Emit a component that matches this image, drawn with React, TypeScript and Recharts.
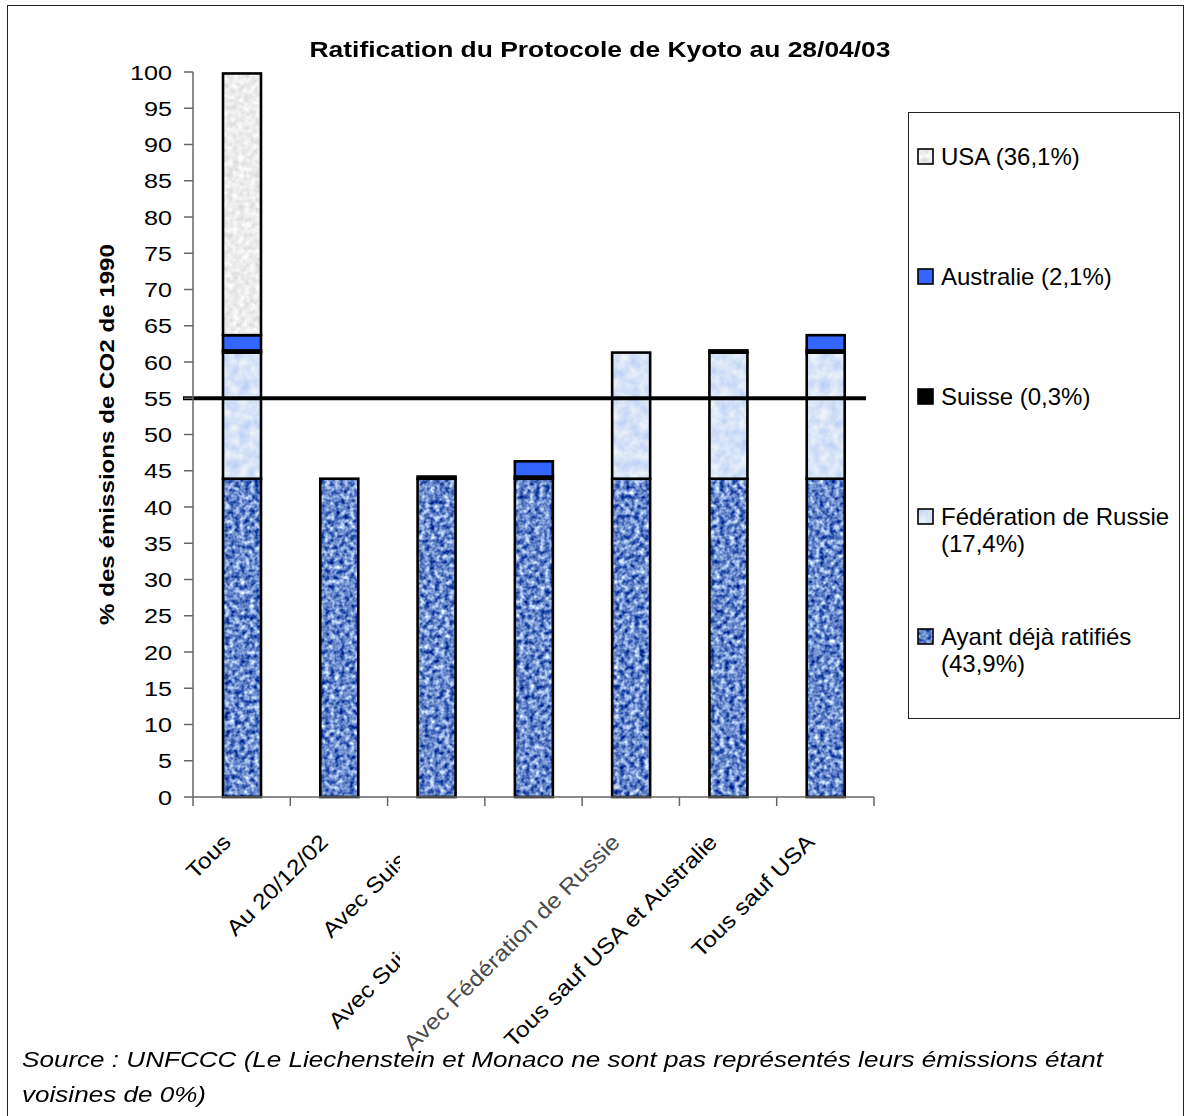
import React from 'react';
import { BarChart, Bar, XAxis, YAxis, ReferenceLine, Legend } from 'recharts';

// Categories (scenarios) and the share of 1990 CO2 emissions for each group
const categories = [
  'Tous',
  'Au 20/12/02',
  'Avec Suisse',
  'Avec Suisse et Australie',
  'Avec Fédération de Russie',
  'Tous sauf USA et Australie',
  'Tous sauf USA',
];
const ayant = [43.9, 43.9, 43.9, 43.9, 43.9, 43.9, 43.9];
const russie = [17.4, 0, 0, 0, 17.4, 17.4, 17.4];
const suisse = [0.3, 0, 0.3, 0.3, 0, 0.3, 0.3];
const australie = [2.1, 0, 0, 2.1, 0, 0, 2.1];
const usa = [36.1, 0, 0, 0, 0, 0, 0];

const yTicks = [0, 5, 10, 15, 20, 25, 30, 35, 40, 45, 50, 55, 60, 65, 70, 75, 80, 85, 90, 95, 100];
const threshold = 55;

const title = 'Ratification du Protocole de Kyoto au 28/04/03';
const yLabel = '% des émissions de CO2 de 1990';
const sourceLines = [
  'Source : UNFCCC (Le Liechenstein et Monaco ne sont pas représentés leurs émissions étant',
  'voisines de 0%)',
];

// Series, bottom of the stack first
const series = [
  { key: 'ayant', name: 'Ayant déjà ratifiés (43,9%)', color: '#6489cc', filter: 'texAyant' },
  { key: 'russie', name: 'Fédération de Russie (17,4%)', color: '#d6e2f8', filter: 'texRussie' },
  { key: 'suisse', name: 'Suisse (0,3%)', color: '#000000', filter: '' },
  { key: 'australie', name: 'Australie (2,1%)', color: '#3366ff', filter: '' },
  { key: 'usa', name: 'USA (36,1%)', color: '#eeeeee', filter: 'texUsa' },
];

const data = categories.map((name, i) => ({
  name,
  ayant: ayant[i],
  russie: russie[i],
  suisse: suisse[i],
  australie: australie[i],
  usa: usa[i],
}));

const FONT = '"Liberation Sans", Arial, Helvetica, sans-serif';

// layout
const W = 1187;
const H = 1116;
const M_TOP = 72;
const M_LEFT = 93;
const M_RIGHT = 313;
const Y_AXIS_W = 100;
const X_AXIS_H = 319;
const PLOT_W = W - M_LEFT - M_RIGHT - Y_AXIS_W;
const STEP = PLOT_W / categories.length;
const LABEL_CLIP_X = 400;
const AXIS_GREY = '#666666';

const makeShape = (color: string, filter: string) => (props: any) => {
  const { x, y, width, height } = props;
  if (!height || height <= 0) return <g />;
  return (
    <g>
      <rect
        x={x}
        y={y}
        width={width}
        height={height}
        fill={color}
        filter={filter ? `url(#${filter})` : undefined}
      />
      <rect x={x} y={y} width={width} height={height} fill="none" stroke="#000" strokeWidth={2.6} />
    </g>
  );
};

const XTick = (props: any) => {
  const { x, y, payload, index } = props;
  const last = index === categories.length - 1;
  const clipped = index === 2 || index === 3;
  const faded = index === 4;
  return (
    <g>
      <line x1={x - STEP / 2} y1={y} x2={x - STEP / 2} y2={y + 9} stroke={AXIS_GREY} strokeWidth={1.5} />
      {last && (
        <line x1={x + STEP / 2} y1={y} x2={x + STEP / 2} y2={y + 9} stroke={AXIS_GREY} strokeWidth={1.5} />
      )}
      <g clipPath={clipped ? 'url(#labelClip)' : undefined}>
        <text
          transform={`translate(${x - 15},${y + 41}) rotate(-45) scale(1.12,1)`}
          textAnchor="end"
          dy="0.35em"
          fontSize={22}
          fontFamily={FONT}
          fill={faded ? '#4a4a4a' : '#000'}
        >
          {payload.value}
        </text>
      </g>
    </g>
  );
};

const YTick = (props: any) => {
  const { x, y, payload } = props;
  return (
    <text
      transform={`translate(${x},${y}) scale(1.2,1)`}
      textAnchor="end"
      dy="0.36em"
      fontSize={21}
      fontFamily={FONT}
      fill="#000"
    >
      {payload.value}
    </text>
  );
};

const YLabel = (props: any) => {
  const { viewBox } = props;
  const cx = viewBox.x + 14;
  const cy = viewBox.y + viewBox.height / 2;
  return (
    <text
      transform={`translate(${cx},${cy}) rotate(-90) scale(1.15,1)`}
      textAnchor="middle"
      dy="0.35em"
      fontSize={21}
      fontWeight="bold"
      fontFamily={FONT}
      fill="#000"
    >
      {yLabel}
    </text>
  );
};

const ThresholdLine = (props: any) => {
  const { x1, y1, x2, y2 } = props;
  return <line x1={x1 - 10} y1={y1} x2={x2 - 8} y2={y2} stroke="#000" strokeWidth={4} />;
};

const Swatch = ({ color, filter }: { color: string; filter: string }) => (
  <svg width={17} height={17} style={{ display: 'block' }}>
    <rect x={1} y={1} width={15} height={15} fill={color} filter={filter ? `url(#${filter})` : undefined} />
    <rect x={1} y={1} width={15} height={15} fill="none" stroke="#000" strokeWidth={1.6} />
  </svg>
);

const LegendBox = () => {
  const items = [...series].reverse();
  return (
    <div
      style={{
        position: 'relative',
        width: '100%',
        height: '100%',
        boxSizing: 'border-box',
        border: '1.5px solid #222',
        background: '#fff',
        fontFamily: FONT,
        fontSize: 24,
        color: '#000',
      }}
    >
      {items.map((s, i) => (
        <div
          key={s.key}
          style={{ position: 'absolute', left: 8, top: 30 + i * 120, display: 'flex', alignItems: 'flex-start' }}
        >
          <div style={{ marginTop: 5, marginRight: 7 }}>
            <Swatch color={s.color} filter={s.filter} />
          </div>
          <div style={{ width: 240, lineHeight: '27px', textAlign: 'left' }}>{s.name}</div>
        </div>
      ))}
    </div>
  );
};

// texture filters for the patterned fills
const Defs = () => (
  <svg width={0} height={0} style={{ position: 'absolute' }}>
    <defs>
      <filter id="texAyant" x="0" y="0" width="1" height="1" colorInterpolationFilters="sRGB">
        <feTurbulence type="fractalNoise" baseFrequency="0.2" numOctaves={2} seed={4} result="n" />
        <feColorMatrix
          in="n"
          type="matrix"
          values="1.5 0 0 0 -0.34  1.35 0 0 0 -0.14  0.8 0 0 0 0.4  0 0 0 0 1"
          result="c"
        />
        <feComposite in="c" in2="SourceGraphic" operator="in" />
      </filter>
      <filter id="texRussie" x="0" y="0" width="1" height="1" colorInterpolationFilters="sRGB">
        <feTurbulence type="fractalNoise" baseFrequency="0.1" numOctaves={3} seed={9} result="n" />
        <feColorMatrix
          in="n"
          type="matrix"
          values="0.3 0 0 0 0.69  0.2 0 0 0 0.79  0 0 0 0 0.97  0 0 0 0 1"
          result="c"
        />
        <feComposite in="c" in2="SourceGraphic" operator="in" />
      </filter>
      <filter id="texUsa" x="0" y="0" width="1" height="1" colorInterpolationFilters="sRGB">
        <feTurbulence type="fractalNoise" baseFrequency="0.18" numOctaves={2} seed={2} result="n" />
        <feColorMatrix
          in="n"
          type="matrix"
          values="0.22 0 0 0 0.82  0.22 0 0 0 0.82  0.22 0 0 0 0.82  0 0 0 0 1"
          result="c"
        />
        <feComposite in="c" in2="SourceGraphic" operator="in" />
      </filter>
      <clipPath id="labelClip" clipPathUnits="userSpaceOnUse">
        <rect x={0} y={0} width={LABEL_CLIP_X} height={H} />
      </clipPath>
    </defs>
  </svg>
);

export default function App() {
  return (
    <div style={{ position: 'absolute', left: 0, top: 0, width: W, height: H, background: '#fff', overflow: 'hidden' }}>
      <Defs />
      <div
        style={{
          position: 'absolute',
          left: 7,
          top: 5,
          width: 1177,
          height: 1140,
          border: '1.5px solid #222',
          boxSizing: 'border-box',
        }}
      />
      <div
        style={{
          position: 'absolute',
          left: 0,
          width: 1200,
          top: 39,
          textAlign: 'center',
          fontFamily: FONT,
          fontWeight: 'bold',
          fontSize: 22,
          lineHeight: '22px',
          transform: 'scaleX(1.2)',
          transformOrigin: '600px 0',
        }}
      >
        {title}
      </div>
      <div style={{ position: 'absolute', left: 0, top: 0 }}>
        <BarChart
          width={W}
          height={H}
          data={data}
          margin={{ top: M_TOP, right: M_RIGHT, bottom: 0, left: M_LEFT }}
          barSize={38}
        >
          <XAxis
            dataKey="name"
            interval={0}
            height={X_AXIS_H}
            tickLine={false}
            tickSize={0}
            tickMargin={0}
            axisLine={{ stroke: AXIS_GREY, strokeWidth: 1.5 }}
            tick={<XTick />}
          />
          <XAxis
            xAxisId="top"
            dataKey="name"
            orientation="top"
            height={0}
            tick={false}
            tickLine={false}
            axisLine={{ stroke: '#8c8c8c', strokeWidth: 1.5 }}
          />
          <YAxis
            width={Y_AXIS_W}
            domain={[0, 100]}
            ticks={yTicks}
            interval={0}
            tickSize={9}
            tickMargin={12}
            tickLine={{ stroke: AXIS_GREY, strokeWidth: 1.5 }}
            axisLine={{ stroke: AXIS_GREY, strokeWidth: 1.5 }}
            tick={<YTick />}
            label={<YLabel />}
          />
          <YAxis
            yAxisId="right"
            orientation="right"
            width={0}
            domain={[0, 100]}
            tick={false}
            tickLine={false}
            axisLine={{ stroke: '#8c8c8c', strokeWidth: 1.5 }}
          />
          {series.map((s) => (
            <Bar
              key={s.key}
              dataKey={s.key}
              name={s.name}
              stackId="total"
              fill={s.color}
              isAnimationActive={false}
              shape={makeShape(s.color, s.filter)}
            />
          ))}
          <ReferenceLine y={threshold} ifOverflow="visible" shape={<ThresholdLine />} />
          <Legend
            layout="vertical"
            align="center"
            verticalAlign="middle"
            wrapperStyle={{ position: 'absolute', left: 908, top: 112, width: 272, height: 607 }}
            content={() => <LegendBox />}
          />
        </BarChart>
      </div>
      <div
        style={{
          position: 'absolute',
          left: 22,
          top: 1042,
          fontFamily: FONT,
          fontStyle: 'italic',
          fontSize: 22,
          lineHeight: '35px',
          whiteSpace: 'nowrap',
          color: '#000',
          transform: 'scaleX(1.185)',
          transformOrigin: '0 0',
        }}
      >
        {sourceLines.map((l) => (
          <div key={l}>{l}</div>
        ))}
      </div>
    </div>
  );
}
